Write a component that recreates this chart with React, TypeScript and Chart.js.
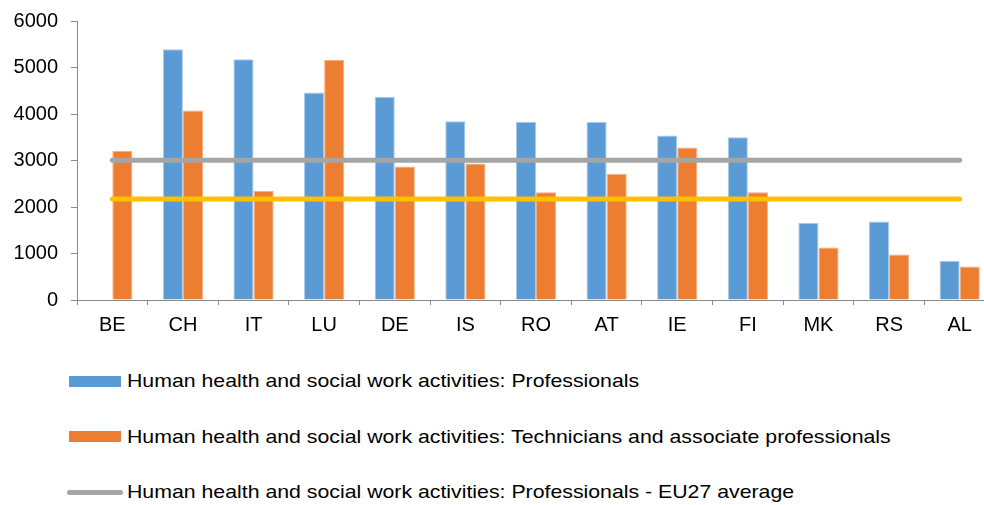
import React, { useEffect, useRef } from "react";
import { Chart, registerables } from "chart.js";

Chart.register(...registerables);

const categories = ["BE", "CH", "IT", "LU", "DE", "IS", "RO", "AT", "IE", "FI", "MK", "RS", "AL"];
const professionals = [null, 5390, 5180, 4460, 4370, 3845, 3835, 3830, 3540, 3500, 1660, 1690, 845];
const technicians = [3210, 4075, 2350, 5160, 2870, 2935, 2315, 2715, 3280, 2315, 1130, 980, 720];
const profEU27 = [3005, 3005, 3005, 3005, 3005, 3005, 3005, 3005, 3005, 3005, 3005, 3005, 3005];
const techEU27 = [2170, 2170, 2170, 2170, 2170, 2170, 2170, 2170, 2170, 2170, 2170, 2170, 2170];
const yTicks = [0, 1000, 2000, 3000, 4000, 5000, 6000];

const labelProf = "Human health and social work activities: Professionals";
const labelTech = "Human health and social work activities: Technicians and associate professionals";
const labelProfAvg = "Human health and social work activities: Professionals - EU27 average";
const labelTechAvg = "Human health and social work activities: Technicians and associate professionals - EU27 average";

const BLUE = "#5B9BD5";
const ORANGE = "#ED7D31";
const GRAY = "#A5A5A5";
const YELLOW = "#FFC000";
const AXIS = "#8A8A8A";
const FONT = "'Liberation Sans', Arial, sans-serif";

const legendItems = [
  { label: labelProf, color: BLUE, kind: "bar" },
  { label: labelTech, color: ORANGE, kind: "bar" },
  { label: labelProfAvg, color: GRAY, kind: "line" },
  { label: labelTechAvg, color: YELLOW, kind: "line" },
];

export default function App() {
  const ref = useRef<HTMLCanvasElement | null>(null);

  useEffect(() => {
    if (!ref.current) return;
    const chart = new Chart(ref.current, {
      type: "bar",
      data: {
        labels: categories,
        datasets: [
          {
            type: "line",
            label: labelProfAvg,
            data: profEU27,
            borderColor: GRAY,
            borderWidth: 5,
            borderCapStyle: "round",
            pointRadius: 0,
            fill: false,
            order: 0,
          } as any,
          {
            type: "line",
            label: labelTechAvg,
            data: techEU27,
            borderColor: YELLOW,
            borderWidth: 5,
            borderCapStyle: "round",
            pointRadius: 0,
            fill: false,
            order: 0,
          } as any,
          {
            type: "bar",
            label: labelProf,
            data: professionals,
            backgroundColor: BLUE,
            borderColor: "#A9CBEA",
            borderWidth: 1,
            categoryPercentage: 0.57,
            barPercentage: 1.0,
            order: 1,
          } as any,
          {
            type: "bar",
            label: labelTech,
            data: technicians,
            backgroundColor: ORANGE,
            borderColor: "#F4AD80",
            borderWidth: 1,
            categoryPercentage: 0.57,
            barPercentage: 1.0,
            order: 1,
          } as any,
        ],
      },
      options: {
        responsive: false,
        animation: false,
        layout: { padding: { top: 16, right: 15, bottom: 0, left: 0 } },
        plugins: {
          legend: { display: false },
          tooltip: { enabled: false },
        },
        scales: {
          x: {
            offset: true,
            grid: {
              display: true,
              offset: true,
              drawOnChartArea: false,
              drawTicks: true,
              tickLength: 5,
              color: AXIS,
            },
            border: { display: true, color: AXIS, width: 1 },
            ticks: {
              color: "#000",
              font: { family: FONT, size: 20 },
              padding: 8,
              maxRotation: 0,
              autoSkip: false,
            },
            afterFit: (s: any) => {
              s.height = 40;
            },
          },
          y: {
            min: 0,
            max: 6000,
            afterBuildTicks: (s: any) => {
              s.ticks = yTicks.map((v) => ({ value: v }));
            },
            grid: {
              display: true,
              drawOnChartArea: false,
              drawTicks: true,
              tickLength: 6,
              color: AXIS,
            },
            border: { display: true, color: AXIS, width: 1 },
            ticks: {
              color: "#000",
              font: { family: FONT, size: 20 },
              padding: 13,
              callback: (v: any) => String(v),
            },
            afterFit: (s: any) => {
              s.width = 77;
            },
          },
        },
      },
    });
    return () => chart.destroy();
  }, []);

  return (
    <div
      style={{
        position: "fixed",
        left: 0,
        top: 0,
        width: 984,
        height: 505,
        overflow: "hidden",
        background: "#fff",
      }}
    >
      <canvas
        ref={ref}
        width={1010}
        height={344}
        style={{ position: "absolute", left: 0, top: -4, width: 1010, height: 344 }}
      />
      {legendItems.map((it, i) => (
        <div
          key={i}
          style={{
            position: "absolute",
            left: 0,
            top: 381 + i * 55.5 - 15,
            height: 30,
            width: 1000,
          }}
        >
          {it.kind === "bar" ? (
            <div
              style={{
                position: "absolute",
                left: 69,
                top: 9.5,
                width: 52,
                height: 11,
                background: it.color,
              }}
            />
          ) : (
            <div
              style={{
                position: "absolute",
                left: 67,
                top: 12.5,
                width: 56,
                height: 5,
                borderRadius: 3,
                background: it.color,
              }}
            />
          )}
          <span
            style={{
              position: "absolute",
              left: 127,
              top: 3,
              fontFamily: FONT,
              fontSize: 19,
              lineHeight: "24px",
              color: "#000",
              whiteSpace: "nowrap",
              transform: "scaleX(1.12)",
              transformOrigin: "left center",
            }}
          >
            {it.label}
          </span>
        </div>
      ))}
    </div>
  );
}
